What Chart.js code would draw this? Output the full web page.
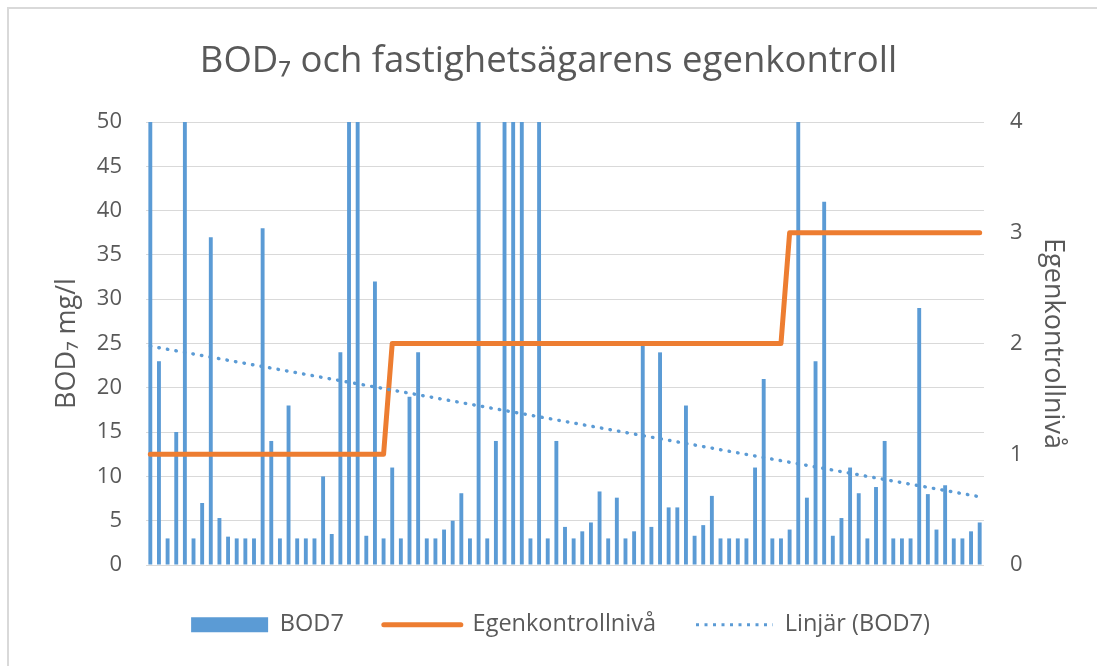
<!DOCTYPE html>
<html>
<head>
<meta charset="utf-8">
<script src="https://cdn.jsdelivr.net/npm/chart.js@4"></script>
<style>
  html, body { margin: 0; padding: 0; background: #fff; }
  #wrap { position: relative; width: 1097px; height: 666px; overflow: hidden; }
  #frame { position: absolute; left: 7px; top: 7px; width: 1200px; height: 800px;
           border-top: 2px solid #d9d9d9; border-left: 2px solid #d9d9d9; pointer-events: none; }
</style>
</head>
<body>
<div id="wrap">
  <canvas id="chart" width="1097" height="666"></canvas>
  <div id="frame"></div>
</div>
<script>
// BOD7 per sample (bars clipped at the 50 mg/l axis top are read as 50)
const bodValues = [
  50, 23, 3, 15, 50, 3, 7, 37, 5.3, 3.2,
  3, 3, 3, 38, 14, 3, 18, 3, 3, 3,
  10, 3.5, 24, 50, 50, 3.3, 32, 3, 11, 3,
  19, 24, 3, 3, 4, 5, 8.1, 3, 50, 3,
  14, 50, 50, 50, 3, 50, 3, 14, 4.3, 3,
  3.8, 4.8, 8.3, 3, 7.6, 3, 3.8, 25, 4.3, 24,
  6.5, 6.5, 18, 3.3, 4.5, 7.8, 3, 3, 3, 3,
  11, 21, 3, 3, 4, 50, 7.6, 23, 41, 3.3,
  5.3, 11, 8.1, 3, 8.8, 14, 3, 3, 3, 29,
  8, 4, 9, 3, 3, 3.8, 4.8
];

// control level (right axis)
const levelValues = [
  1, 1, 1, 1, 1, 1, 1, 1, 1, 1,
  1, 1, 1, 1, 1, 1, 1, 1, 1, 1,
  1, 1, 1, 1, 1, 1, 1, 1, 2, 2,
  2, 2, 2, 2, 2, 2, 2, 2, 2, 2,
  2, 2, 2, 2, 2, 2, 2, 2, 2, 2,
  2, 2, 2, 2, 2, 2, 2, 2, 2, 2,
  2, 2, 2, 2, 2, 2, 2, 2, 2, 2,
  2, 2, 2, 2, 3, 3, 3, 3, 3, 3,
  3, 3, 3, 3, 3, 3, 3, 3, 3, 3,
  3, 3, 3, 3, 3, 3, 3
];

// linear trend line, start and end
const trendValues = [24.7, 7.7];

const leftTicks = [0, 5, 10, 15, 20, 25, 30, 35, 40, 45, 50];
const rightTicks = [0, 1, 2, 3, 4];

const categories = bodValues.map((v, i) => String(i + 1));

Chart.defaults.font.family = "'Open Sans', sans-serif";
Chart.defaults.color = '#595959';

// legend markers: keep the dotted look for the trend entry
function legendLabels(chart) {
  const items = Chart.defaults.plugins.legend.labels.generateLabels(chart);
  items.forEach(item => {
    if (item.datasetIndex === 2) {
      item.lineDash = [3, 5.5];
      item.lineCap = 'butt';
      item.lineWidth = 3;
    }
    if (item.datasetIndex === 1) {
      item.lineCap = 'round';
      item.lineWidth = 5;
    }
  });
  return items;
}

// the legend row sits a little right of centre in the original
const legendNudge = {
  id: 'legendNudge',
  afterLayout(chart) {
    if (chart.legend) {
      chart.legend.left += 12;
      chart.legend.right += 12;
    }
  }
};

const ctx = document.getElementById('chart').getContext('2d');

new Chart(ctx, {
  type: 'bar',
  data: {
    labels: categories,
    datasets: [
      {
        label: 'BOD7',
        data: bodValues,
        backgroundColor: '#5b9bd5',
        borderWidth: 0,
        categoryPercentage: 1,
        barPercentage: 0.45,
        pointStyle: 'rect',
        yAxisID: 'y',
        order: 2
      },
      {
        type: 'line',
        label: 'Egenkontrollnivå',
        data: levelValues,
        borderColor: '#ed7d31',
        backgroundColor: '#ed7d31',
        borderWidth: 5,
        borderCapStyle: 'round',
        borderJoinStyle: 'round',
        pointRadius: 0,
        pointStyle: 'line',
        tension: 0,
        yAxisID: 'y2',
        order: 1
      },
      {
        type: 'line',
        label: 'Linjär (BOD7)',
        data: [
          { x: categories[0], y: trendValues[0] },
          { x: categories[categories.length - 1], y: trendValues[1] }
        ],
        borderColor: '#5b9bd5',
        backgroundColor: '#5b9bd5',
        borderWidth: 3.4,
        borderDash: [0.5, 8.15],
        borderCapStyle: 'round',
        pointRadius: 0,
        pointStyle: 'line',
        yAxisID: 'y',
        order: 0
      }
    ]
  },
  plugins: [legendNudge],
  options: {
    responsive: false,
    animation: false,
    devicePixelRatio: 1,
    layout: { padding: { top: 0, bottom: 19.5, left: 0, right: 0 } },
    plugins: {
      title: {
        display: true,
        text: 'BOD₇ och fastighetsägarens egenkontroll',
        color: '#595959',
        font: { size: 36.5, weight: 'normal' },
        padding: { top: 40, bottom: 38.2 }
      },
      legend: {
        position: 'bottom',
        labels: {
          usePointStyle: true,
          pointStyleWidth: 77,
          boxHeight: 15,
          padding: 40,
          color: '#595959',
          font: { size: 23.5 },
          generateLabels: legendLabels,
          sort: (a, b) => a.datasetIndex - b.datasetIndex
        }
      },
      tooltip: { enabled: false }
    },
    scales: {
      x: {
        offset: true,
        grid: { display: false, drawTicks: false },
        border: { display: false },
        ticks: { display: false },
        afterFit: (scale) => { scale.height = 8; }
      },
      y: {
        position: 'left',
        min: leftTicks[0],
        max: leftTicks[leftTicks.length - 1],
        ticks: {
          stepSize: leftTicks[1] - leftTicks[0],
          padding: 24,
          color: '#595959',
          font: { size: 22 }
        },
        grid: { color: '#d9d9d9', lineWidth: 1, drawTicks: false },
        border: { display: false },
        title: {
          display: true,
          text: 'BOD₇ mg/l',
          color: '#595959',
          font: { size: 27 },
          padding: { top: 51, bottom: 0 }
        },
        afterFit: (scale) => { scale.width = 146; }
      },
      y2: {
        position: 'right',
        min: rightTicks[0],
        max: rightTicks[rightTicks.length - 1],
        ticks: {
          stepSize: rightTicks[1] - rightTicks[0],
          padding: 26,
          color: '#595959',
          font: { size: 22 }
        },
        grid: { display: false, drawTicks: false },
        border: { display: false },
        title: {
          display: true,
          text: 'Egenkontrollnivå',
          color: '#595959',
          font: { size: 27 },
          padding: { top: 28, bottom: 0 }
        },
        afterFit: (scale) => { scale.width = 113; }
      }
    }
  }
});
</script>
</body>
</html>
